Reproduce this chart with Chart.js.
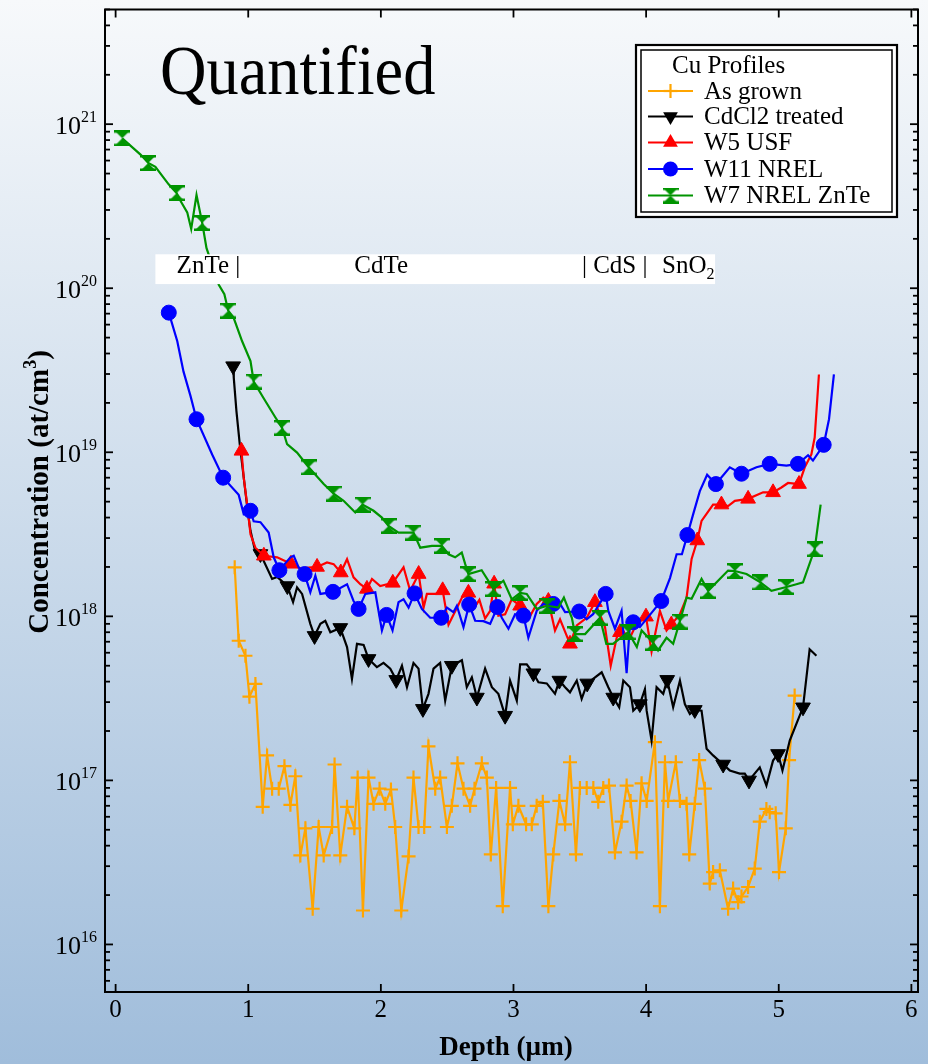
<!DOCTYPE html>
<html><head><meta charset="utf-8">
<script src="https://cdn.jsdelivr.net/npm/chart.js@4"></script>
<style>
html,body{margin:0;padding:0;}
body{width:928px;height:1064px;overflow:hidden;background:linear-gradient(to bottom,#f7f9fb 0%,#a0bddb 100%);}
canvas{display:block;}
</style></head><body>
<canvas id="c" width="928" height="1064"></canvas>
<script>
// ---------- data (depth in µm, concentration in at/cm3) ----------
const seriesNames = ['As grown','CdCl2 treated','W5 USF','W11 NREL','W7 NREL ZnTe'];
const xTicks = [0,1,2,3,4,5,6];
const yTickExps = [16,17,18,19,20,21];

const asGrownDepth = [0.898,0.928,0.979,1.009,1.054,1.109,1.142,1.18,1.23,1.273,1.318,1.355,1.393,1.431,1.486,1.531,1.569,1.632,1.651,1.694,1.745,1.80,1.825,1.865,1.907,1.945,1.99,2.033,2.076,2.108,2.154,2.209,2.246,2.284,2.327,2.359,2.41,2.447,2.498,2.535,2.578,2.623,2.673,2.706,2.761,2.799,2.829,2.869,2.919,2.974,2.995,3.037,3.095,3.138,3.175,3.221,3.263,3.30,3.346,3.389,3.426,3.471,3.501,3.552,3.602,3.639,3.677,3.72,3.765,3.815,3.853,3.883,3.928,3.966,4.004,4.066,4.104,4.142,4.166,4.224,4.255,4.305,4.325,4.367,4.40,4.443,4.48,4.505,4.556,4.618,4.656,4.694,4.719,4.769,4.819,4.857,4.907,4.932,4.977,5.002,5.053,5.078,5.12];
const asGrownConc = [1.99e18,7.1e17,5.75e17,3.24e17,3.87e17,6.9e16,1.42e17,8.9e16,8.9e16,1.22e17,7.1e16,1.06e17,3.49e16,5.1e16,1.65e16,5.2e16,3.49e16,5.2e16,1.25e17,3.49e16,6.9e16,5.1e16,1.04e17,1.61e16,1.04e17,7.2e16,8.9e16,7.2e16,8.8e16,5.2e16,1.61e16,3.44e16,1.04e17,5.2e16,5.2e16,1.61e17,8.9e16,1.04e17,5.2e16,7.0e16,1.27e17,8.9e16,7.0e16,8.9e16,1.27e17,1.04e17,3.54e16,9.0e16,1.71e16,9.0e16,5.4e16,7.0e16,5.4e16,5.4e16,7.0e16,7.4e16,1.71e16,3.54e16,7.5e16,5.4e16,1.29e17,3.54e16,9.0e16,9.0e16,9.0e16,7.4e16,9.0e16,9.3e16,3.64e16,5.6e16,9.3e16,7.5e16,3.64e16,9.6e16,7.5e16,1.71e17,1.71e16,1.29e17,7.5e16,1.29e17,7.5e16,7.2e16,3.54e16,7.2e16,1.33e17,8.9e16,2.35e16,2.76e16,2.83e16,1.65e16,2.19e16,1.81e16,1.96e16,2.24e16,2.9e16,5.6e16,6.7e16,6.4e16,6.3e16,2.76e16,5.1e16,1.33e17,3.29e17];

const cdcl2Depth = [0.886,0.891,0.911,0.936,0.996,1.017,1.049,1.092,1.18,1.218,1.295,1.338,1.368,1.406,1.468,1.50,1.544,1.581,1.619,1.694,1.745,1.782,1.82,1.87,1.907,1.97,2.02,2.071,2.116,2.159,2.197,2.246,2.284,2.317,2.359,2.397,2.447,2.485,2.535,2.611,2.648,2.686,2.724,2.786,2.837,2.886,2.937,2.974,3.025,3.05,3.10,3.15,3.188,3.251,3.313,3.346,3.389,3.426,3.477,3.514,3.556,3.665,3.715,3.752,3.797,3.828,3.878,3.903,3.953,3.991,4.004,4.041,4.079,4.129,4.159,4.204,4.255,4.292,4.33,4.367,4.418,4.456,4.505,4.581,4.631,4.706,4.744,4.776,4.857,4.907,4.957,4.995,5.028,5.083,5.133,5.183,5.233,5.284];
const cdcl2Conc = [3.35e19,2.84e19,1.78e19,1.12e19,4.4e18,3.32e18,2.57e18,2.4e18,1.69e18,1.74e18,1.53e18,1.22e18,1.50e18,1.37e18,9.0e17,7.6e17,9.0e17,9.4e17,8.0e17,8.5e17,6.5e17,4.15e17,6.8e17,6.7e17,5.5e17,4.9e17,5.2e17,4.8e17,4.1e17,5.0e17,3.7e17,5.2e17,4.8e17,2.73e17,3.37e17,4.8e17,5.2e17,3.06e17,5.0e17,5.4e17,3.7e17,4.25e17,3.2e17,4.8e17,3.7e17,3.37e17,2.48e17,4.06e17,3.06e17,5.1e17,5.1e17,4.5e17,3.96e17,3.9e17,3.37e17,4.06e17,3.7e17,3.44e17,4.06e17,3.14e17,3.9e17,4.56e17,3.7e17,3.2e17,2.79e17,4.06e17,3.7e17,2.66e17,2.92e17,3.6e17,2.66e17,1.75e17,3.7e17,3.37e17,4.1e17,2.79e17,4.06e17,2.92e17,2.54e17,2.69e17,2.66e17,1.56e17,1.42e17,1.25e17,1.15e17,1.10e17,1.10e17,1.0e17,1.20e17,9.3e16,1.32e17,1.45e17,1.15e17,1.75e17,2.21e17,2.79e17,6.3e17,5.75e17];
const cdcl2Marks = [0,7,10,15,19,24,28,33,38,42,46,51,55,60,63,68,74,79,83,87,91,95];

const w5Depth = [0.949,0.966,0.992,1.017,1.054,1.118,1.218,1.322,1.393,1.519,1.594,1.644,1.698,1.745,1.794,1.845,1.895,1.933,1.995,2.09,2.171,2.221,2.285,2.322,2.347,2.41,2.466,2.51,2.611,2.66,2.698,2.743,2.786,2.824,2.854,2.886,2.937,2.987,3.05,3.112,3.175,3.225,3.263,3.313,3.351,3.426,3.477,3.552,3.614,3.69,3.733,3.778,3.803,3.878,3.928,3.999,4.041,4.104,4.154,4.19,4.255,4.305,4.343,4.386,4.418,4.505,4.568,4.618,4.669,4.769,4.882,4.957,5.02,5.07,5.153,5.196,5.246,5.271,5.303];
const w5Conc = [1.02e19,7.0e18,4.8e18,3.17e18,2.62e18,2.34e18,2.29e18,2.09e18,1.96e18,2.0e18,2.13e18,2.08e18,1.85e18,2.23e18,1.73e18,1.57e18,1.47e18,1.69e18,1.53e18,1.60e18,1.99e18,1.43e18,1.81e18,1.13e18,1.37e18,1.37e18,1.44e18,8.9e17,1.30e18,1.39e18,1.11e18,1.26e18,9.7e17,1.08e18,1.58e18,1.01e18,1.03e18,1.27e18,1.16e18,9.6e17,1.19e18,1.30e18,1.24e18,8.2e17,9.6e17,6.8e17,8.8e17,9.8e17,1.22e18,8.6e17,5.0e17,7.4e17,8.0e17,7.4e17,9.0e17,9.95e17,6.1e17,1.08e18,8.2e17,8.9e17,1.03e18,1.30e18,2.24e18,2.9e18,3.82e18,4.8e18,4.8e18,4.7e18,5.06e18,5.2e18,5.7e18,5.7e18,6.1e18,6.5e18,6.4e18,8.1e18,9.7e18,1.23e19,2.98e19];
const w5Marks = [0,5,7,9,12,16,19,22,26,29,34,38,42,45,48,52,55,59,63,66,69,71,74];

const w11Depth = [0.401,0.465,0.512,0.565,0.61,0.728,0.811,0.928,0.966,1.017,1.041,1.092,1.154,1.192,1.235,1.318,1.343,1.38,1.425,1.468,1.506,1.544,1.639,1.745,1.794,1.832,1.883,1.958,2.008,2.043,2.088,2.133,2.171,2.209,2.254,2.309,2.372,2.455,2.498,2.547,2.573,2.623,2.666,2.711,2.773,2.824,2.879,2.912,2.962,3.012,3.075,3.112,3.175,3.225,3.30,3.338,3.389,3.496,3.552,3.60,3.695,3.715,3.765,3.815,3.853,3.878,3.903,3.953,4.053,4.114,4.18,4.23,4.27,4.311,4.355,4.405,4.46,4.526,4.631,4.719,4.832,4.932,5.058,5.145,5.221,5.258,5.339,5.379,5.416];
const w11Conc = [7.1e19,4.75e19,3.1e19,2.2e19,1.59e19,9.7e18,7.0e18,5.5e18,4.2e18,4.4e18,3.8e18,3.75e18,3.24e18,2.29e18,1.91e18,2.29e18,2.34e18,1.99e18,1.81e18,1.40e18,1.77e18,1.37e18,1.41e18,1.57e18,1.24e18,1.11e18,1.37e18,1.40e18,8.2e17,1.02e18,8.2e17,1.22e18,1.27e18,1.13e18,1.38e18,1.11e18,9.8e17,9.8e17,1.13e18,1.06e18,1.16e18,8.6e17,1.18e18,9.4e17,9.35e17,9.0e17,1.14e18,9.8e17,8.4e17,1.03e18,1.01e18,7.4e17,1.08e18,1.19e18,1.19e18,1.24e18,1.06e18,1.07e18,9.6e17,1.03e18,1.37e18,1.08e18,8.4e17,1.08e18,4.5e17,9.0e17,9.2e17,8.6e17,1.08e18,1.24e18,1.71e18,2.39e18,2.39e18,3.13e18,4.2e18,5.8e18,7.3e18,6.4e18,8.1e18,7.4e18,8.1e18,8.5e18,8.3e18,8.5e18,9.6e18,8.9e18,1.11e19,1.59e19,2.98e19];
const w11Marks = [0,4,6,9,14,18,22,25,29,34,37,42,46,50,54,57,60,66,69,73,77,79,81,83,86];

const w7Depth = [0.05,0.19,0.246,0.30,0.40,0.46,0.49,0.54,0.57,0.61,0.653,0.685,0.778,0.82,0.849,0.89,0.954,1.017,1.041,1.114,1.205,1.255,1.293,1.368,1.456,1.569,1.644,1.719,1.807,1.862,1.945,2.008,2.058,2.133,2.246,2.297,2.385,2.46,2.51,2.56,2.61,2.636,2.66,2.76,2.849,2.924,2.987,3.05,3.10,3.175,3.255,3.338,3.38,3.44,3.464,3.54,3.652,3.70,3.75,3.865,3.93,3.966,4.053,4.09,4.154,4.204,4.254,4.305,4.343,4.418,4.468,4.618,4.669,4.757,4.862,4.945,5.058,5.133,5.183,5.271,5.316];
const w7Conc = [8.2e20,6.5e20,5.8e20,5.5e20,4.3e20,3.8e20,3.4e20,2.9e20,2.3e20,3.7e20,2.5e20,1.76e20,1.05e20,9.2e19,7.3e19,6.6e19,4.75e19,3.6e19,2.7e19,2.15e19,1.63e19,1.41e19,1.12e19,9.95e18,8.1e18,6.4e18,5.6e18,5.06e18,4.3e18,4.8e18,4.4e18,4.0e18,3.56e18,3.24e18,3.24e18,2.62e18,2.69e18,2.69e18,2.39e18,2.29e18,2.45e18,2.08e18,1.81e18,1.91e18,1.47e18,1.65e18,1.27e18,1.39e18,1.37e18,1.11e18,1.16e18,1.13e18,1.30e18,9.8e17,7.8e17,7.8e17,9.8e17,6.8e17,6.8e17,8.0e17,6.5e17,8.2e17,6.9e17,6.2e17,7.4e17,6.8e17,9.3e17,1.3e18,1.28e18,1.69e18,1.43e18,1.9e18,1.89e18,1.81e18,1.61e18,1.43e18,1.51e18,1.57e18,1.61e18,2.57e18,4.8e18];
const w7Marks = [0,2,5,10,14,18,21,24,26,29,32,34,37,42,44,47,50,54,56,59,62,66,70,72,74,76,79];

// layer labels
const layerLabels = ['ZnTe |','CdTe','| CdS |','SnO'];
const layerLabelDepth = [0.46,1.80,3.516,4.12];

// ---------- styling ----------
const SERIF = '"Liberation Serif","Times New Roman",Times,serif';
const ORANGE = '#ffa500', BLACK = '#000000', RED = '#ff0000', BLUE = '#0000ff', GREEN = '#009400';

function hourglass(color){
  const s = 16, c = document.createElement('canvas');
  c.width = s; c.height = s;
  const g = c.getContext('2d');
  g.fillStyle = color;
  g.beginPath(); g.moveTo(0,0); g.lineTo(s,0); g.lineTo(s/2,s/2); g.closePath(); g.fill();
  g.beginPath(); g.moveTo(s/2,s/2); g.lineTo(s,s); g.lineTo(0,s); g.closePath(); g.fill();
  g.fillRect(0,0,s,2.5); g.fillRect(0,s-2.5,s,2.5);
  return c;
}
const hg = hourglass(GREEN);

function pts(d,c){ return d.map((v,i)=>({x:v,y:c[i]})); }
function markR(marks,r){ const s=new Set(marks); return ctx => s.has(ctx.dataIndex) ? r : 0; }

const datasets = [
  {label:seriesNames[0], data:pts(asGrownDepth,asGrownConc), borderColor:ORANGE, backgroundColor:ORANGE,
   borderWidth:2.2, pointStyle:'cross', pointRadius:7, pointBorderWidth:2.2, pointBorderColor:ORANGE, order:4},
  {label:seriesNames[1], data:pts(cdcl2Depth,cdcl2Conc), borderColor:BLACK, backgroundColor:BLACK,
   borderWidth:2.2, pointStyle:'triangle', rotation:180, pointRadius:markR(cdcl2Marks,8.5), pointBorderWidth:1, pointBorderColor:BLACK, order:3},
  {label:seriesNames[2], data:pts(w5Depth,w5Conc), borderColor:RED, backgroundColor:RED,
   borderWidth:2.2, pointStyle:'triangle', pointRadius:markR(w5Marks,8.5), pointBorderWidth:1, pointBorderColor:RED, order:2},
  {label:seriesNames[3], data:pts(w11Depth,w11Conc), borderColor:BLUE, backgroundColor:BLUE,
   borderWidth:2.2, pointStyle:'circle', pointRadius:markR(w11Marks,7.5), pointBorderWidth:1, pointBorderColor:BLUE, order:1},
  {label:seriesNames[4], data:pts(w7Depth,w7Conc), borderColor:GREEN, backgroundColor:GREEN,
   borderWidth:2.2, pointStyle:hg, pointRadius:markR(w7Marks,7), order:0}
];

function line(ctx,x1,y1,x2,y2){ ctx.beginPath(); ctx.moveTo(x1,y1); ctx.lineTo(x2,y2); ctx.stroke(); }

const deco = {
  id:'deco',
  afterDatasetsDraw(chart){
    const {ctx, chartArea:a, scales:{x,y}} = chart;
    ctx.save();
    // layer band
    const bx1 = x.getPixelForValue(0.30), bx2 = x.getPixelForValue(4.52);
    const by1 = y.getPixelForValue(1.61e20), by2 = y.getPixelForValue(1.06e20);
    ctx.fillStyle = '#ffffff';
    ctx.fillRect(bx1, by1, bx2-bx1, by2-by1);
    ctx.fillStyle = '#000';
    ctx.textAlign = 'left'; ctx.textBaseline = 'alphabetic';
    const bb = y.getPixelForValue(1.23e20);
    layerLabels.forEach((t,i)=>{
      const px = x.getPixelForValue(layerLabelDepth[i]);
      ctx.font = '25px '+SERIF;
      ctx.fillText(t, px, bb);
      if (t==='SnO'){
        const w = ctx.measureText(t).width;
        ctx.font = '16px '+SERIF;
        ctx.fillText('2', px+w, bb+6);
      }
    });

    // frame
    ctx.strokeStyle = '#000'; ctx.lineWidth = 2;
    ctx.strokeRect(a.left, a.top, a.right-a.left, a.bottom-a.top);

    // y ticks
    ctx.lineWidth = 1.8;
    for (let e=15; e<=21; e++){
      for (let m=1; m<=9; m++){
        const v = m*Math.pow(10,e);
        if (v < y.min || v > y.max) continue;
        const py = y.getPixelForValue(v);
        const len = m===1 ? 8 : 5;
        line(ctx, a.left, py, a.left+len, py);
        line(ctx, a.right, py, a.right-len, py);
      }
    }
    // y labels
    yTickExps.forEach(e=>{
      const py = y.getPixelForValue(Math.pow(10,e));
      ctx.textAlign = 'right';
      ctx.font = '26px '+SERIF;
      ctx.fillText('10', a.left-24, py+10);
      ctx.textAlign = 'left';
      ctx.font = '16px '+SERIF;
      ctx.fillText(String(e), a.left-24, py-2);
    });
    // x ticks & labels
    ctx.textAlign = 'center';
    ctx.font = '25px '+SERIF;
    xTicks.forEach(t=>{
      const px = x.getPixelForValue(t);
      line(ctx, px, a.bottom, px, a.bottom-8);
      line(ctx, px, a.top, px, a.top+8);
      ctx.fillText(String(t), px, a.bottom+25);
    });

    // axis titles
    ctx.font = 'bold 27px '+SERIF;
    ctx.textAlign = 'center';
    ctx.fillText('Depth (\u00b5m)', 506, 1055);

    ctx.save();
    ctx.translate(48, 492);
    ctx.rotate(-Math.PI/2);
    ctx.textAlign = 'left';
    const p1 = 'Concentration (at/cm', p2 = '3', p3 = ')';
    ctx.font = 'bold 29px '+SERIF; const w1 = ctx.measureText(p1).width, w3 = ctx.measureText(p3).width;
    ctx.font = 'bold 18px '+SERIF; const w2 = ctx.measureText(p2).width;
    let sx = -(w1+w2+w3)/2;
    ctx.font = 'bold 29px '+SERIF; ctx.fillText(p1, sx, 0); sx += w1;
    ctx.font = 'bold 18px '+SERIF; ctx.fillText(p2, sx, -12); sx += w2;
    ctx.font = 'bold 29px '+SERIF; ctx.fillText(p3, sx, 0);
    ctx.restore();

    // big title
    ctx.save();
    ctx.textAlign = 'left';
    ctx.font = '70px '+SERIF;
    ctx.translate(160, 94);
    ctx.scale(0.92, 1);
    ctx.fillText('Quantified', 0, 0);
    ctx.restore();

    // legend
    const L = 636, T = 45, W = 261, H = 172;
    ctx.fillStyle = '#fff';
    ctx.fillRect(L, T, W, H);
    ctx.strokeStyle = '#000';
    ctx.lineWidth = 2.2; ctx.strokeRect(L, T, W, H);
    ctx.lineWidth = 1.5; ctx.strokeRect(L+5, T+5, W-10, H-10);
    ctx.fillStyle = '#000';
    ctx.textAlign = 'left';
    ctx.font = '25px '+SERIF;
    ctx.fillText('Cu Profiles', 672, 73);
    const colors = [ORANGE, BLACK, RED, BLUE, GREEN];
    const baselines = [98.5, 124, 150, 176.5, 203];
    colors.forEach((c,i)=>{
      const sy = baselines[i]-7.5;
      ctx.strokeStyle = c; ctx.fillStyle = c; ctx.lineWidth = 2.2;
      line(ctx, 648, sy, 693, sy);
      const cx = 670.5;
      if (i===0){ line(ctx,cx-7,sy,cx+7,sy); line(ctx,cx,sy-7,cx,sy+7); }
      else if (i===1){ ctx.beginPath(); ctx.moveTo(cx-7.4,sy-4.2); ctx.lineTo(cx+7.4,sy-4.2); ctx.lineTo(cx,sy+8.5); ctx.closePath(); ctx.fill(); }
      else if (i===2){ ctx.beginPath(); ctx.moveTo(cx-7.4,sy+4.2); ctx.lineTo(cx+7.4,sy+4.2); ctx.lineTo(cx,sy-8.5); ctx.closePath(); ctx.fill(); }
      else if (i===3){ ctx.beginPath(); ctx.arc(cx,sy,7.5,0,Math.PI*2); ctx.fill(); }
      else { ctx.drawImage(hg, cx-8, sy-8); }
      ctx.fillStyle = '#000';
      ctx.font = '25px '+SERIF;
      ctx.fillText(seriesNames[i], 704, baselines[i]);
    });
    ctx.restore();
  }
};

new Chart(document.getElementById('c'), {
  type:'line',
  data:{datasets},
  options:{
    responsive:false, animation:false, devicePixelRatio:1,
    layout:{padding:{left:105, top:7, right:10, bottom:72}},
    elements:{line:{tension:0}},
    plugins:{legend:{display:false}, tooltip:{enabled:false}},
    scales:{
      x:{type:'linear', min:-0.08, max:6.05, display:false},
      y:{type:'logarithmic', min:5.13e15, max:5.0e21, display:false}
    }
  },
  plugins:[deco]
});
</script>
</body></html>
